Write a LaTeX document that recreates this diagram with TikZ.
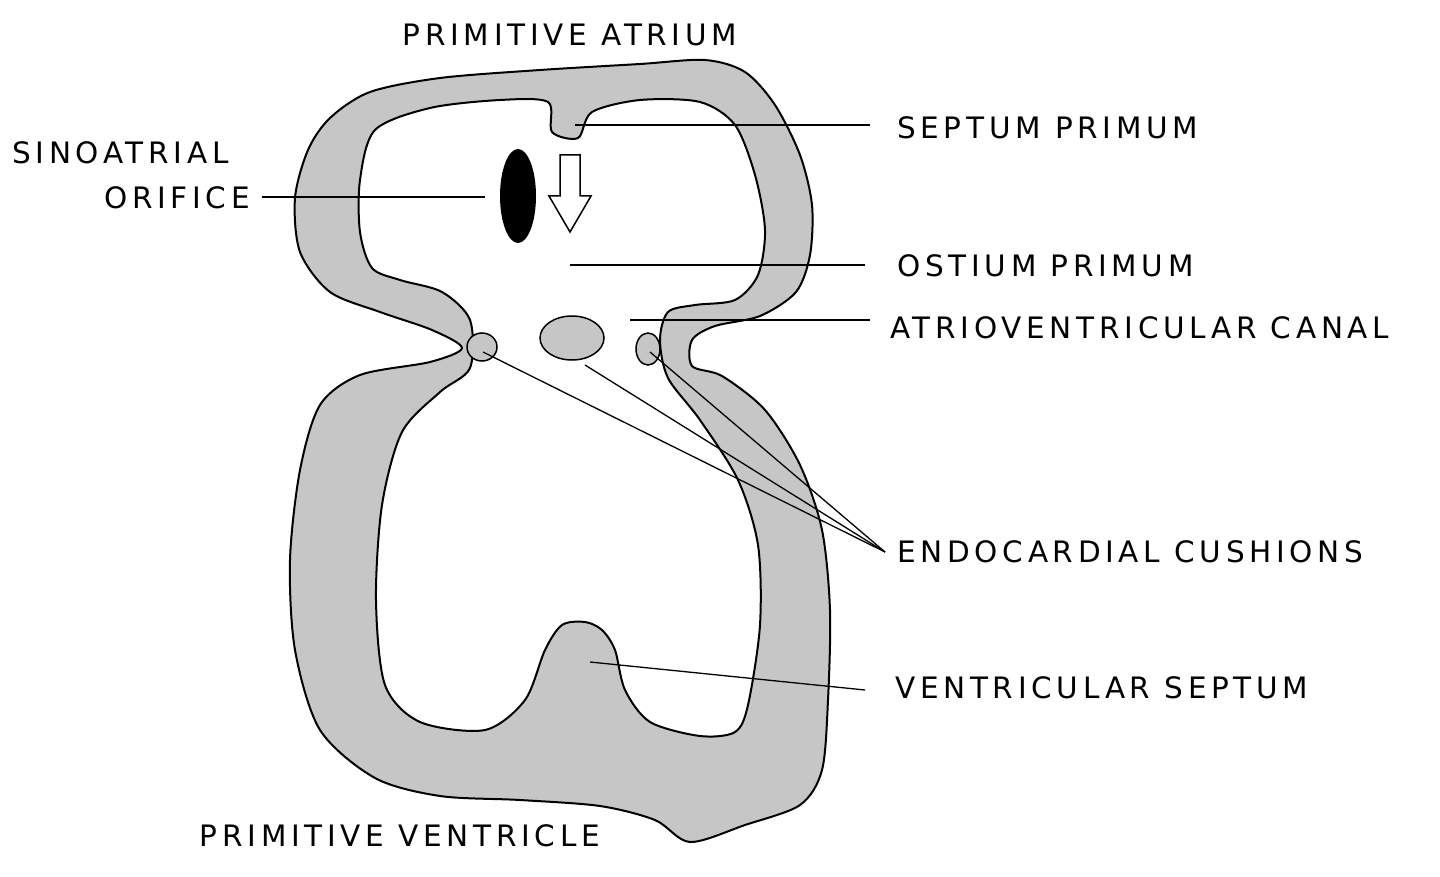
\documentclass[tikz,border=0pt]{standalone}
\usepackage{fontspec}
\setmainfont[LetterSpace=16]{DejaVu Sans}
\begin{document}
\begin{tikzpicture}[x=1pt,y=-1pt,
  lbl/.style={font=\fontsize{29.5}{33}\selectfont, inner sep=0pt},
  wall/.style={draw=black, line width=2pt, fill=gray!45},
  cav/.style={draw=black, line width=2pt, fill=white},
  ptr/.style={draw=black, line width=1.3pt}]
\useasboundingbox (0,0) rectangle (1440,877);
% outer wall
\draw[wall] plot[smooth cycle, tension=0.5] coordinates {
 (330,118) (370,92) (440,78) (540,70) (640,64) (705,60) (745,72) (775,105) (800,155)
 (812,205) (810,255) (796,292) (760,316) (715,326) (692,340) (692,366) (722,376)
 (765,410) (800,465) (822,530) (830,610) (828,700) (822,770) (800,805) (745,825)
 (690,842) (655,820) (600,806) (520,800) (440,796) (375,778) (320,730) (295,650)
 (290,560) (300,470) (320,405) (360,375) (430,362) (462,348) (432,330) (380,312)
 (330,292) (300,252) (295,198) (308,150)};
% inner cavity
\draw[cav] plot[smooth cycle, tension=0.5] coordinates {
 (375,130) (430,108) (500,100) (548,102) (552,132) (578,138) (592,112) (640,100)
 (700,102) (735,125) (755,175) (765,230) (758,275) (735,300) (695,305) (668,312)
 (660,340) (668,378) (700,420) (738,480) (758,545) (760,625) (748,705) (735,732)
 (700,736) (650,722) (625,690) (615,650) (602,630) (585,622) (562,625) (545,650)
 (525,700) (485,730) (420,722) (385,685) (376,600) (382,505) (402,432) (440,392)
 (470,368) (470,320) (442,292) (400,280) (372,268) (360,232) (360,180)};
% cushions
\fill[gray!45, draw=black, line width=1.5pt] (482,347) ellipse (15 and 14);
\fill[gray!45, draw=black, line width=1.5pt] (572,338) ellipse (32 and 22);
\fill[gray!45, draw=black, line width=1.5pt] (648,349) ellipse (12 and 16);
% sinoatrial orifice
\fill[black] (518,196) ellipse (18 and 47);
% arrow
\draw[line width=1.5pt, fill=white] (560,155) -- (580,155) -- (580,196) -- (591,196)
  -- (570,232) -- (549,196) -- (560,196) -- cycle;
% labels
\node[lbl] (atr) at (570,35) {PRIMITIVE ATRIUM};
\node[lbl] (ven) at (400,836) {PRIMITIVE VENTRICLE};
\node[lbl, anchor=west] (sa1) at (12,153) {SINOATRIAL};
\node[lbl, anchor=east] (sa2) at (250,198) {ORIFICE};
\node[lbl, anchor=west] (sp) at (897,128) {SEPTUM PRIMUM};
\node[lbl, anchor=west] (op) at (897,266) {OSTIUM PRIMUM};
\node[lbl, anchor=west] (av) at (890,328) {ATRIOVENTRICULAR CANAL};
\node[lbl, anchor=west] (ec) at (897,552) {ENDOCARDIAL CUSHIONS};
\node[lbl, anchor=west] (vs) at (895,688) {VENTRICULAR SEPTUM};
\coordinate (c1) at (483,352);
\coordinate (c2) at (585,365);
\coordinate (c3) at (650,352);
\coordinate (ecp) at (885,552);
\draw[ptr] (575,125) -- (870,125);
\draw[ptr] (262,197) -- (485,197);
\draw[ptr] (570,265) -- (865,265);
\draw[ptr] (630,320) -- (870,320);
\draw[ptr] (ecp) -- (c1);
\draw[ptr] (ecp) -- (c2);
\draw[ptr] (ecp) -- (c3);
\draw[ptr] (590,662) -- (865,690);
\end{tikzpicture}
\end{document}
